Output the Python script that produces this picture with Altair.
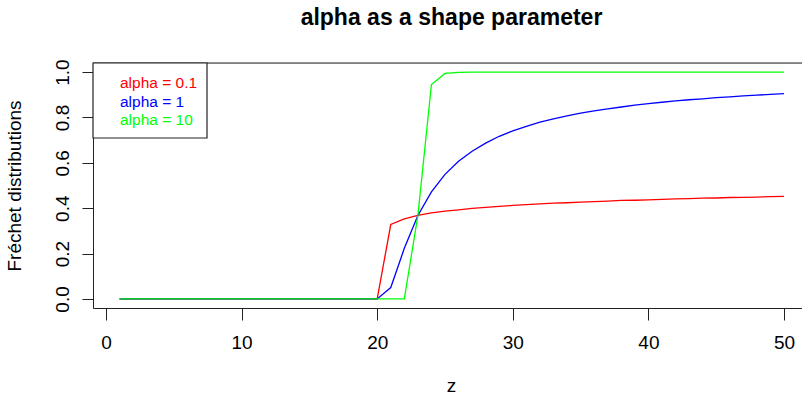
import altair as alt
import pandas as pd

# Fréchet CDFs (location 20, scale 3) evaluated at z = 1..50
z = list(range(1, 51))

cdf_alpha_01 = [0.0] * 20 + [
    0.328, 0.353, 0.368, 0.379, 0.387, 0.393, 0.399, 0.404, 0.408, 0.412,
    0.416, 0.419, 0.422, 0.424, 0.427, 0.429, 0.431, 0.434, 0.435, 0.437,
    0.439, 0.441, 0.442, 0.444, 0.445, 0.447, 0.448, 0.449, 0.451, 0.452,
]
cdf_alpha_1 = [0.0] * 20 + [
    0.050, 0.223, 0.368, 0.472, 0.549, 0.607, 0.651, 0.687, 0.717, 0.741,
    0.761, 0.779, 0.794, 0.807, 0.819, 0.829, 0.838, 0.846, 0.854, 0.861,
    0.867, 0.873, 0.878, 0.882, 0.887, 0.891, 0.895, 0.898, 0.902, 0.905,
]
cdf_alpha_10 = [0.0] * 20 + [
    0.000, 0.000, 0.368, 0.945, 0.994, 0.999, 1.000, 1.000, 1.000, 1.000,
    1.000, 1.000, 1.000, 1.000, 1.000, 1.000, 1.000, 1.000, 1.000, 1.000,
    1.000, 1.000, 1.000, 1.000, 1.000, 1.000, 1.000, 1.000, 1.000, 1.000,
]

series_labels = ["alpha = 0.1", "alpha = 1", "alpha = 10"]
series_colors = ["#FF0000", "#0000FF", "#00FF00"]
series_values = [cdf_alpha_01, cdf_alpha_1, cdf_alpha_10]

x_ticks = [0, 10, 20, 30, 40, 50]
y_ticks = [0.0, 0.2, 0.4, 0.6, 0.8, 1.0]

FONT = "Liberation Sans"
W, H = 709, 245

x_enc = alt.X(
    "z:Q",
    scale=alt.Scale(domain=[-0.96, 51.33], nice=False, zero=False),
    axis=alt.Axis(
        values=x_ticks, format="d", grid=False,
        tickSize=12, tickColor="#222", domainColor="#222",
        labelFont=FONT, labelFontSize=19, labelColor="black", labelPadding=13,
        title="z", titleFont=FONT, titleFontSize=19, titleFontWeight="normal",
        titleColor="black", titleX=358, titleY=77,
        titleAlign="center", titleBaseline="middle",
    ),
)
y_enc = alt.Y(
    "F:Q",
    scale=alt.Scale(domain=[-0.04, 1.04], nice=False, zero=False),
    axis=alt.Axis(
        values=y_ticks, format=".1f", grid=False,
        tickSize=11, tickColor="#222", domainColor="#222",
        labelFont=FONT, labelFontSize=19, labelColor="black",
        labelAngle=270, labelPadding=10,
        title="Fréchet distributions", titleFont=FONT, titleFontSize=19,
        titleFontWeight="normal", titleColor="black", titleAngle=270,
        titleX=-79, titleY=122.5, titleAlign="center", titleBaseline="middle",
    ),
)

layers = []
for label, color, values in zip(series_labels, series_colors, series_values):
    df = pd.DataFrame({"z": z, "F": values, "series": label})
    layers.append(
        alt.Chart(df).mark_line(color=color, strokeWidth=1.3).encode(x=x_enc, y=y_enc)
    )

frame_df = pd.DataFrame({"k": [0]})

# top edge of the plot frame
top_edge = alt.Chart(frame_df).mark_rule(color="#222", strokeWidth=1.2).encode(
    x=alt.value(0), x2=alt.value(W), y=alt.value(0)
)

# legend box with coloured labels
legend_box = alt.Chart(frame_df).mark_rect(
    fill="white", stroke="#222", strokeWidth=1.2
).encode(x=alt.value(0), x2=alt.value(114), y=alt.value(0), y2=alt.value(75))

legend_texts = []
for i, (label, color) in enumerate(zip(series_labels, series_colors)):
    legend_texts.append(
        alt.Chart(pd.DataFrame({"label": [label]})).mark_text(
            align="left", baseline="alphabetic", font=FONT, fontSize=15.5, color=color
        ).encode(x=alt.value(27), y=alt.value(25 + 18.6 * i), text="label:N")
    )

chart = alt.layer(*layers, top_edge, legend_box, *legend_texts).properties(
    width=W,
    height=H,
    autosize=alt.AutoSizeParams(type="none"),
    padding={"left": 93, "top": 63, "right": 0, "bottom": 93},
    title=alt.TitleParams(
        "alpha as a shape parameter", font=FONT, fontSize=23, fontWeight="bold",
        color="black", anchor="middle", dx=4, offset=11, baseline="alphabetic",
    ),
).configure_view(stroke=None).configure(background="white")

chart.save("out.html", embed_options={"renderer": "svg", "actions": False})
